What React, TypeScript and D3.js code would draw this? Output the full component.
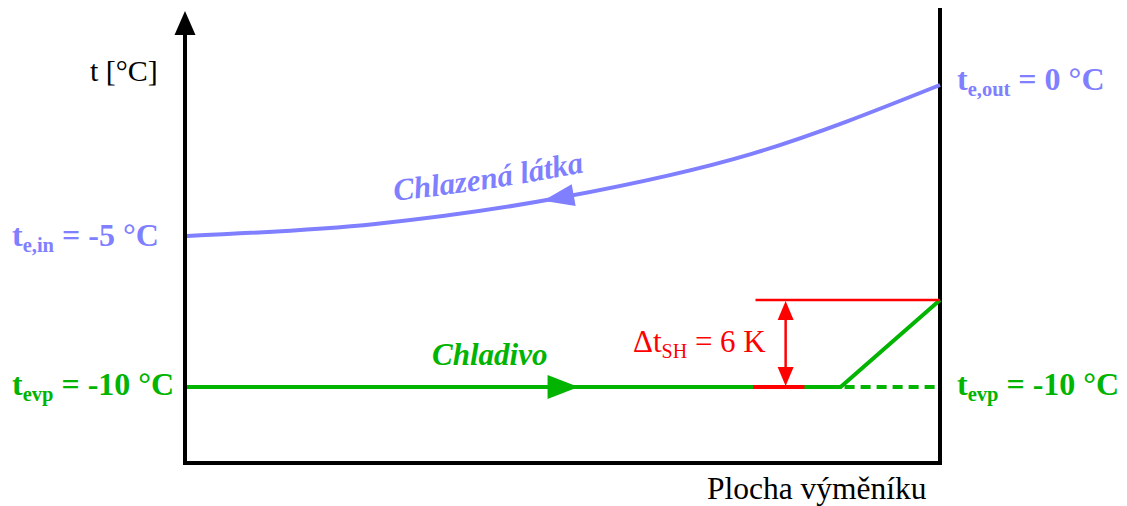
import React, { useEffect, useRef } from "react";
import * as d3 from "d3";

const W = 1127;
const H = 506;

// Position along the exchanger surface, % of total area
const areaPct = [0, 25, 50, 75, 100];
// Chilled medium temperature along the surface, °C
const mediumTemp = [-5, -4.6, -3.71, -2.28, 0];

// Refrigerant
const evapTemp = -10; // °C
const superheatK = 6; // K
const superheatStartPct = 86.8; // where superheating begins
const refrigerantArrowPct = 52;
const mediumArrowPct = 47.3;

// Bracket marking the superheat (% of area)
const bracketTopFrom = 75.5;
const bracketBaseFrom = 75.2;
const bracketBaseTo = 82;
const bracketArrowPct = 79.5;

const BLUE = "#7f7fff";
const GREEN = "#00b400";
const RED = "#ff0000";
const SERIF = "Liberation Serif, Tinos, Times New Roman, Times, DejaVu Serif, serif";

export default function App() {
  const ref = useRef<SVGSVGElement | null>(null);

  useEffect(() => {
    const svg = d3.select(ref.current);
    svg.selectAll("*").remove();

    const left = 185;
    const right = 940;
    const bottom = 463;

    const x = d3.scaleLinear().domain([0, 100]).range([187, right]);
    const y = d3.scaleLinear().domain([-10, 0]).range([387, 85]);
    // superheat is drawn schematically, not to the temperature scale
    const sh = d3.scaleLinear().domain([0, superheatK]).range([0, 87]);

    const pts = areaPct.map((a, i) => [a, mediumTemp[i]] as [number, number]);

    const defs = svg.append("defs");

    // frame: y axis with arrow, bottom axis, right boundary
    const frame = svg.append("g").attr("stroke", "#000").attr("stroke-width", 4).attr("fill", "none");
    frame.append("path").attr("d", `M${left},34 V${bottom} H${right} V8`);
    svg
      .append("path")
      .attr("d", `M${left},11 L${left + 10.5},35 L${left - 10.5},35 Z`)
      .attr("fill", "#000");

    // chilled medium
    const line = d3
      .line<[number, number]>()
      .x((d) => x(d[0]))
      .y((d) => y(d[1]))
      .curve(d3.curveMonotoneX);
    const bluePath = svg
      .append("path")
      .attr("d", line(pts))
      .attr("fill", "none")
      .attr("stroke", BLUE)
      .attr("stroke-width", 4);

    const textLine = d3
      .line<[number, number]>()
      .x((d) => x(d[0]))
      .y((d) => y(d[1]) - 21)
      .curve(d3.curveMonotoneX);
    defs.append("path").attr("id", "medium-label-path").attr("d", textLine(pts));
    svg
      .append("text")
      .style("font-family", SERIF)
      .attr("font-size", 31)
      .attr("font-weight", "bold")
      .attr("font-style", "italic")
      .attr("fill", BLUE)
      .append("textPath")
      .attr("href", "#medium-label-path")
      .attr("startOffset", 208)
      .text("Chlazená látka");

    const node = bluePath.node() as SVGPathElement;
    const total = node.getTotalLength();
    const lengthAtX = (xx: number) => {
      let lo = 0;
      let hi = total;
      for (let i = 0; i < 40; i++) {
        const mid = (lo + hi) / 2;
        if (node.getPointAtLength(mid).x < xx) lo = mid;
        else hi = mid;
      }
      return lo;
    };
    const arrowHead = (tip: { x: number; y: number }, back: { x: number; y: number }, len: number, half: number) => {
      const dx = back.x - tip.x;
      const dy = back.y - tip.y;
      const n = Math.hypot(dx, dy);
      const ux = dx / n;
      const uy = dy / n;
      const bx = tip.x + ux * len;
      const by = tip.y + uy * len;
      return `M${tip.x},${tip.y} L${bx - uy * half},${by + ux * half} L${bx + uy * half},${by - ux * half} Z`;
    };
    const Lt = lengthAtX(x(mediumArrowPct));
    const tipB = node.getPointAtLength(Lt);
    const backB = node.getPointAtLength(Lt + 30);
    svg.append("path").attr("d", arrowHead(tipB, backB, 31, 11)).attr("fill", BLUE);

    // refrigerant
    const y0 = y(evapTemp);
    const yOut = y0 - sh(superheatK);
    svg
      .append("path")
      .attr("d", `M${x(0)},${y0} H${x(superheatStartPct)} L${x(100)},${yOut}`)
      .attr("fill", "none")
      .attr("stroke", GREEN)
      .attr("stroke-width", 4);
    svg
      .append("line")
      .attr("x1", x(superheatStartPct))
      .attr("x2", x(100))
      .attr("y1", y0)
      .attr("y2", y0)
      .attr("stroke", GREEN)
      .attr("stroke-width", 4)
      .attr("stroke-dasharray", "10 6")
      .attr("stroke-dashoffset", -4);
    const gTip = { x: x(refrigerantArrowPct), y: y0 };
    svg
      .append("path")
      .attr("d", arrowHead(gTip, { x: gTip.x - 10, y: y0 }, 31, 12))
      .attr("fill", GREEN);

    // superheat bracket
    svg
      .append("line")
      .attr("x1", x(bracketTopFrom))
      .attr("x2", x(100))
      .attr("y1", yOut)
      .attr("y2", yOut)
      .attr("stroke", RED)
      .attr("stroke-width", 2.5);
    svg
      .append("line")
      .attr("x1", x(bracketBaseFrom))
      .attr("x2", x(bracketBaseTo))
      .attr("y1", y0)
      .attr("y2", y0)
      .attr("stroke", RED)
      .attr("stroke-width", 4);
    const ax = x(bracketArrowPct);
    svg
      .append("line")
      .attr("x1", ax)
      .attr("x2", ax)
      .attr("y1", yOut + 12)
      .attr("y2", y0 - 12)
      .attr("stroke", RED)
      .attr("stroke-width", 2.5);
    svg.append("path").attr("d", arrowHead({ x: ax, y: yOut + 1 }, { x: ax, y: yOut + 10 }, 19, 8)).attr("fill", RED);
    svg.append("path").attr("d", arrowHead({ x: ax, y: y0 - 1 }, { x: ax, y: y0 - 10 }, 19, 8)).attr("fill", RED);

    // labels
    const label = (
      xx: number,
      yy: number,
      main: string,
      sub: string,
      rest: string,
      color: string,
      bold: boolean
    ) => {
      const t = svg
        .append("text")
        .attr("x", xx)
        .attr("y", yy)
        .style("font-family", SERIF)
        .attr("font-size", bold ? 32 : 31)
        .attr("font-weight", bold ? "bold" : "normal")
        .attr("fill", color);
      t.append("tspan").text(main);
      t.append("tspan").attr("font-size", bold ? 20.5 : 20).attr("dy", 6).text(sub);
      t.append("tspan").attr("dy", -6).text(rest);
    };
    label(12, 246, "t", "e,in", " = -5 °C", BLUE, true);
    label(957, 90, "t", "e,out", " = 0 °C", BLUE, true);
    label(12, 395, "t", "evp", " = -10 °C", GREEN, true);
    label(957, 395, "t", "evp", " = -10 °C", GREEN, true);
    label(633, 352, "Δt", "SH", ` = ${superheatK} K`, RED, false);

    svg
      .append("text")
      .attr("x", 432)
      .attr("y", 365)
      .style("font-family", SERIF)
      .attr("font-size", 31)
      .attr("font-weight", "bold")
      .attr("font-style", "italic")
      .attr("fill", GREEN)
      .text("Chladivo");

    svg
      .append("text")
      .attr("x", 90)
      .attr("y", 81)
      .style("font-family", SERIF)
      .attr("font-size", 30)
      .attr("fill", "#000")
      .text("t [°C]");

    svg
      .append("text")
      .attr("x", 707)
      .attr("y", 499)
      .style("font-family", SERIF)
      .attr("font-size", 31.5)
      .attr("fill", "#000")
      .text("Plocha výměníku");
  }, []);

  return (
    <div style={{ position: "absolute", left: 0, top: 0 }}>
      <svg ref={ref} width={W} height={H} style={{ display: "block", background: "#fff" }} />
    </div>
  );
}
